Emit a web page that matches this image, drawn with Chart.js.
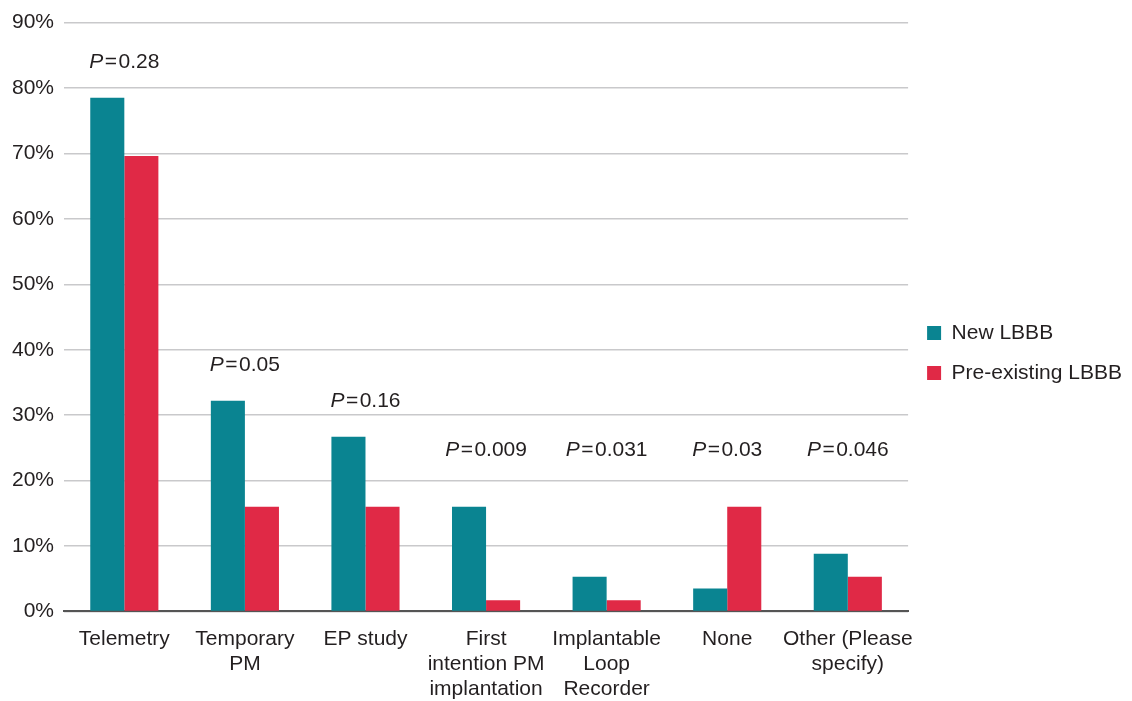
<!DOCTYPE html>
<html lang="en">
<head>
    <meta charset="UTF-8">
    <title>LBBB management</title>
    <script src="https://cdn.jsdelivr.net/npm/chart.js"></script>
    <style>
        html, body { margin: 0; padding: 0; background: #fff; }
        #wrap { width: 1132px; height: 701px; }
    </style>
</head>
<body>
    <div id="wrap"><canvas id="lbbbChart"></canvas></div>

    <script>
        // categories (multi-line labels) and values
        const categories = [
            'Telemetry',
            ['Temporary', 'PM'],
            'EP study',
            ['First', 'intention PM', 'implantation'],
            ['Implantable', 'Loop', 'Recorder'],
            'None',
            ['Other (Please', 'specify)']
        ];
        const newLBBB = [78.5, 32.2, 26.7, 16.0, 5.3, 3.5, 8.8];
        const preLBBB = [69.6, 16.0, 16.0, 1.7, 1.7, 16.0, 5.3];
        const pValues = ['0.28', '0.05', '0.16', '0.009', '0.031', '0.03', '0.046'];

        const FONT = '"Liberation Sans", Arial, Helvetica, sans-serif';
        const SIZE = 21;
        const TEXT = '#231f20';

        // P-value labels sit above the tallest bar of each group
        const pLabels = {
            id: 'pLabels',
            afterDatasetsDraw(chart) {
                const ctx = chart.ctx;
                const x = chart.scales.x, y = chart.scales.y;
                ctx.save();
                ctx.fillStyle = TEXT;
                ctx.textBaseline = 'middle';
                pValues.forEach((p, i) => {
                    const top = Math.max(newLBBB[i], preLBBB[i]);
                    const level = Math.max(top + 5.5, 24.6);
                    const cx = x.getPixelForValue(i);
                    const cy = y.getPixelForValue(level);
                    ctx.font = 'italic ' + SIZE + 'px ' + FONT;
                    const wP = ctx.measureText('P').width;
                    ctx.font = SIZE + 'px ' + FONT;
                    const wEq = ctx.measureText('=').width;
                    const wNum = ctx.measureText(p).width;
                    const gap = 1.5;
                    const total = wP + gap + wEq + gap + wNum;
                    let sx = cx - total / 2;
                    ctx.textAlign = 'left';
                    ctx.font = 'italic ' + SIZE + 'px ' + FONT;
                    ctx.fillText('P', sx, cy);
                    sx += wP + gap;
                    ctx.font = SIZE + 'px ' + FONT;
                    ctx.fillText('=', sx, cy);
                    sx += wEq + gap;
                    ctx.fillText(p, sx, cy);
                });
                ctx.restore();
            }
        };

        const ctx = document.getElementById('lbbbChart').getContext('2d');
        new Chart(ctx, {
            type: 'bar',
            data: {
                labels: categories,
                datasets: [
                    {
                        label: 'New LBBB',
                        data: newLBBB,
                        backgroundColor: '#0a8491'
                    },
                    {
                        label: 'Pre-existing LBBB',
                        data: preLBBB,
                        backgroundColor: '#e02946'
                    }
                ]
            },
            options: {
                responsive: true,
                maintainAspectRatio: false,
                animation: false,
                categoryPercentage: 0.565,
                barPercentage: 1.0,
                layout: { padding: { top: -3, right: 0, left: 2, bottom: -8 } },
                plugins: {
                    tooltip: { enabled: false },
                    legend: {
                        position: 'right',
                        align: 'center',
                        labels: {
                            boxWidth: 14,
                            boxHeight: 14,
                            padding: 19,
                            color: TEXT,
                            font: { family: FONT, size: SIZE }
                        }
                    }
                },
                scales: {
                    x: {
                        grid: { display: false },
                        border: { display: true, color: '#555', width: 2 },
                        ticks: {
                            color: TEXT,
                            font: { family: FONT, size: SIZE, lineHeight: 1.2 },
                            maxRotation: 0,
                            autoSkip: false,
                            padding: 7
                        }
                    },
                    y: {
                        min: 0,
                        max: 90,
                        grid: { color: '#c9c9cb', lineWidth: 1.5, drawTicks: false },
                        border: { display: false },
                        ticks: {
                            stepSize: 10,
                            padding: 10,
                            color: TEXT,
                            font: { family: FONT, size: SIZE },
                            callback: v => v + '%'
                        }
                    }
                }
            },
            plugins: [pLabels]
        });
    </script>
</body>
</html>
